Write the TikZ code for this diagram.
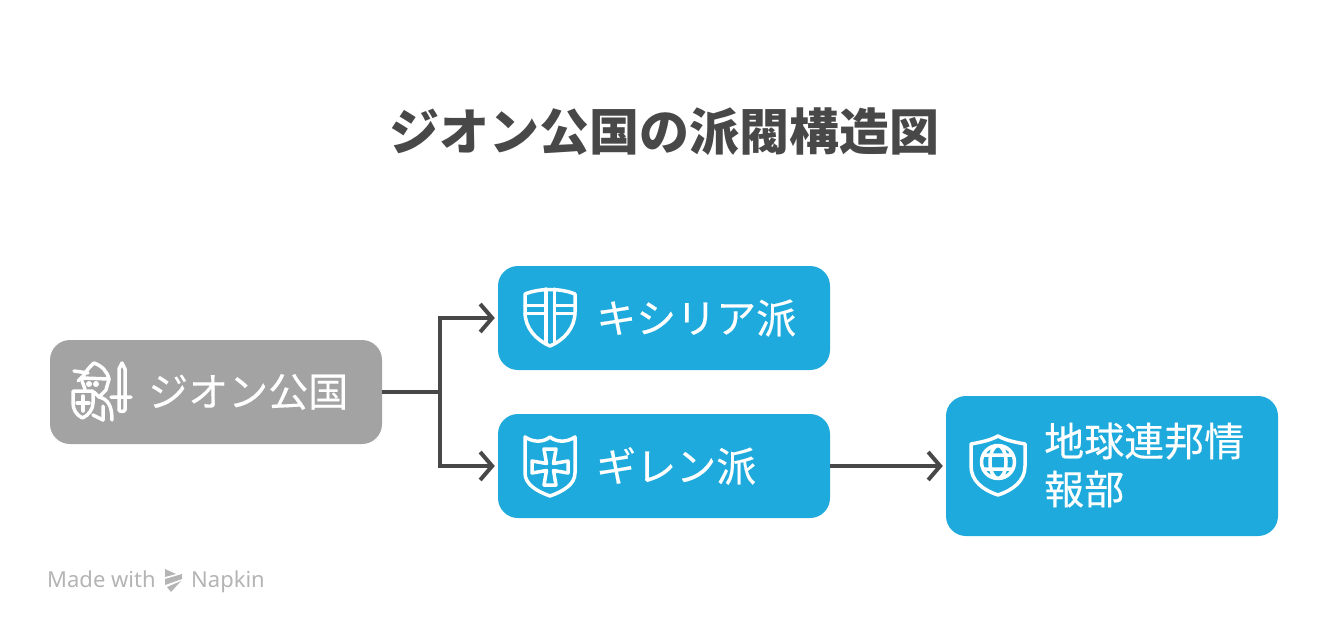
\documentclass[tikz,border=0pt]{standalone}
\usepackage{fontspec, xcolor}
\usetikzlibrary{arrows.meta, calc}
\setmainfont{Noto Sans}
\newfontfamily\cjk{Noto Sans CJK JP}
\newfontfamily\cjkmid{Noto Sans CJK JP}[FakeBold=0.25]
\definecolor{boxblue}{HTML}{1EAADC}
\definecolor{boxgray}{HTML}{A3A3A3}
\definecolor{inkgray}{HTML}{484848}
\definecolor{markgray}{HTML}{B4B4B4}
\tikzset{
  card/.style = {rounded corners = 20pt, minimum width = 332pt, inner sep = 0pt, text = white},
  cardlabel/.style = {anchor = west, inner sep = 0pt, text = white, align = left, font = \cjkmid\fontsize{40}{48}\selectfont},
  link/.style = {draw = inkgray, line width = 4pt, shorten > = 3pt, -{Straight Barb[length = 12pt, width = 28pt, line width = 4pt]}},
  trunk/.style = {draw = inkgray, line width = 4pt},
  icon/.style = {draw = white, line width = 3.5pt, line join = round, line cap = round},
  footer/.style = {inner sep = 0pt, anchor = base west, text = markgray, font = \fontsize{22}{24}\selectfont}
}
\begin{document}
\begin{tikzpicture}[x = 1pt, y = -1pt]
\useasboundingbox (0,0) rectangle (1328,634);
\node[inner sep = 0pt, text = inkgray, font = \cjk\bfseries\fontsize{50}{60}\selectfont] (title) at (664,132) {ジオン公国の派閥構造図};
\node[card, fill = boxgray, minimum height = 104pt] (zeon) at (216,392) {};
\node[card, fill = boxblue, minimum height = 104pt] (kycilia) at (664,318) {};
\node[card, fill = boxblue, minimum height = 104pt] (gihren) at (664,466) {};
\node[card, fill = boxblue, minimum height = 140pt] (feis) at (1112,466) {};
\node[cardlabel] (zeonlabel) at (148,392) {ジオン公国};
\node[cardlabel] (kycilialabel) at (596,318) {キシリア派};
\node[cardlabel] (gihrenlabel) at (596,466) {ギレン派};
\node[cardlabel] (feislabel) at (1044,465) {地球連邦情\\報部};
\coordinate (fork) at (440,392);
\draw[trunk] (zeon.east) -- (fork);
\draw[link] (fork) |- (kycilia.west);
\draw[link] (fork) |- (gihren.west);
\draw[link] (gihren.east) -- (feis.west);
% knight
\draw[icon] (82.5,418) .. controls (76,415) and (73,409) .. (73,403) -- (73,391) -- (93,391) -- (93,403) .. controls (93,409) and (89,415) .. (82.5,418) -- cycle;
\draw[icon] (83,396) -- (83,411) (77,403) -- (89,403);
\draw[icon] (74,371) -- (88,373) (78,381) -- (84,375) .. controls (88,368) and (92,365) .. (94,363) .. controls (102,366) and (107,371) .. (109,379) -- (82,378);
\draw[icon] (82,381) -- (85,389) (109,379) -- (106,390) -- (99,397) -- (94,392);
\draw[icon] (99,397) .. controls (108,399) and (112,406) .. (112,420) (103,406) -- (103,420) -- (93,415);
\draw[icon] (119,397) -- (119,369) -- (122,363) -- (125,369) -- (125,397) (111,397) -- (131,397) (119,397) -- (119,410) .. controls (120,412) and (124,412) .. (125,410) -- (125,397);
\fill[white] (89,384) circle (3pt) (96,384) circle (3pt);
% quartered shield
\draw[icon] (525,294) .. controls (540,288) and (560,288) .. (575,294) -- (575,312) .. controls (575,328) and (564,340) .. (550,346) .. controls (536,340) and (525,328) .. (525,312) -- cycle;
\draw[icon] (546,289) -- (546,344) (554.5,289) -- (554.5,344) (525,305.5) -- (546,305.5) (554.5,305.5) -- (575,305.5) (525,313.5) -- (546,313.5) (554.5,313.5) -- (575,313.5);
% crowned shield
\draw[icon] (525,437) .. controls (534,443) and (544,442) .. (550,437) .. controls (556,442) and (566,443) .. (575,437) -- (575,473) .. controls (575,484) and (564,491) .. (550,496) .. controls (536,491) and (525,484) .. (525,473) -- cycle;
\draw[icon] (544,449) -- (556,449) -- (553.5,463.5) -- (568,461) -- (568,473) -- (553.5,470.5) -- (556,485) -- (544,485) -- (546.5,470.5) -- (532,473) -- (532,461) -- (546.5,463.5) -- cycle;
% globe shield
\draw[icon] (971,444) .. controls (982,442) and (991,440) .. (998,436) .. controls (1005,440) and (1014,442) .. (1025,444) -- (1025,466) .. controls (1025,481) and (1013,490) .. (998,495) .. controls (983,490) and (971,481) .. (971,466) -- cycle;
\draw[icon] (998,462) circle (16.5pt) (998,462) ellipse (8pt and 16.5pt) (983,455) -- (1013,455) (983,469) -- (1013,469);
% footer
\node[footer] (madewith) at (47,587) {Made with};
\node[footer] (napkin) at (191,587) {Napkin};
\fill[markgray] (165,569) -- (176,574) -- (165,577) -- cycle (165,579) -- (182,574) -- (182,579) -- (165,585) -- cycle (167,587) -- (181,581) -- (171,592) -- cycle;
\end{tikzpicture}
\end{document}
